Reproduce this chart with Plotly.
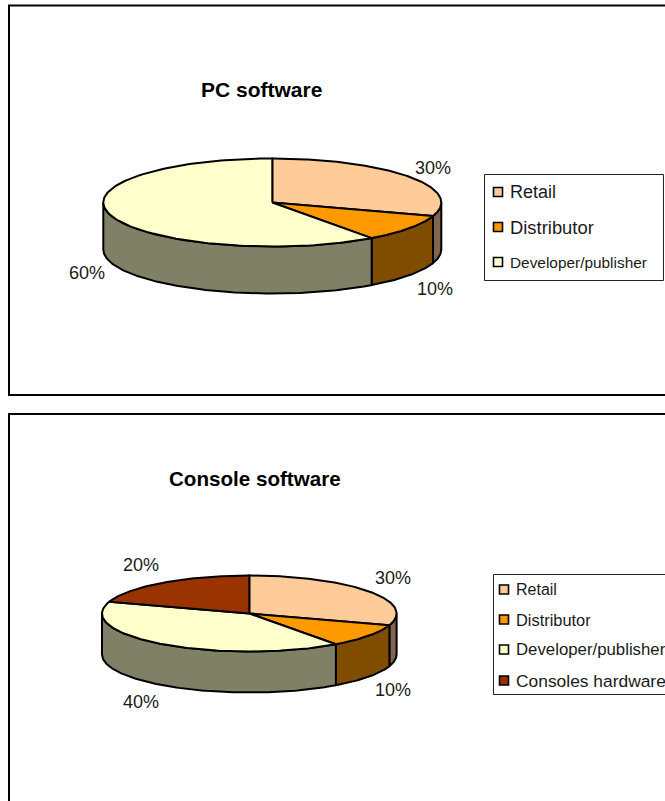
import numpy as np
import plotly.graph_objects as go

# ---- data ----
pc_categories = ["Retail", "Distributor", "Developer/publisher"]
pc_shares = [30, 10, 60]
console_categories = ["Retail", "Distributor", "Developer/publisher", "Consoles hardware"]
console_shares = [30, 10, 40, 20]
pc_title = "PC software"
console_title = "Console software"

# ---- styles ----
TOP = {"Retail": "#FFCC99", "Distributor": "#FF9900",
       "Developer/publisher": "#FFFFCC", "Consoles hardware": "#993300"}
SIDE = {"Retail": "#806650", "Distributor": "#804D00",
        "Developer/publisher": "#808066", "Consoles hardware": "#4D1A00"}
FONT = "Liberation Sans"
LW = 2

fig = go.Figure()


def pt(geo, deg, drop=0.0):
    r = np.radians(deg)
    return geo["cx"] + geo["rx"] * np.sin(r), geo["cy"] - geo["ry"] * np.cos(r) + drop


def poly(xs, ys, color):
    fig.add_trace(go.Scatter(x=xs, y=ys, mode="lines", fill="toself", fillcolor=color,
                             line=dict(color="black", width=LW), hoverinfo="skip",
                             showlegend=False))


def pie3d(categories, shares, geo):
    total = sum(shares)
    edges = np.cumsum([0] + shares) * 360.0 / total
    # walls: only the front half of the rim can be seen
    for cat, a, b in zip(categories, edges[:-1], edges[1:]):
        lo, hi = max(a, 90), min(b, 270)
        if hi <= lo:
            continue
        t = np.linspace(lo, hi, 120)
        x1, y1 = pt(geo, t)
        x2, y2 = pt(geo, t[::-1], geo["depth"])
        poly(np.r_[x1, x2, x1[0]], np.r_[y1, y2, y1[0]], SIDE[cat])
    # top face
    for cat, a, b in zip(categories, edges[:-1], edges[1:]):
        t = np.linspace(a, b, 160)
        x, y = pt(geo, t)
        poly(np.r_[geo["cx"], x, geo["cx"]], np.r_[geo["cy"], y, geo["cy"]], TOP[cat])


def note(x, y, text, size, bold=False, anchor="center", family=FONT, color="#1a1a1a"):
    fig.add_annotation(x=x, y=y, xref="x", yref="y", text=f"<b>{text}</b>" if bold else text,
                       showarrow=False, xanchor=anchor, yanchor="middle",
                       font=dict(family=family, size=size, color=color))


def legend(categories, x, ys, tx, sizes, families):
    for cat, y, s, f in zip(categories, ys, sizes, families):
        fig.add_trace(go.Scatter(x=[x], y=[y], mode="markers", hoverinfo="skip", showlegend=False,
                                 marker=dict(symbol="square", size=9, color=TOP[cat],
                                             line=dict(color="black", width=1.6))))
        note(tx, y, cat, s, anchor="left", family=f)


pc_geo = dict(cx=272.3, cy=202.5, rx=169, ry=44, depth=47)
con_geo = dict(cx=249.3, cy=613.5, rx=147.3, ry=38, depth=41)

pie3d(pc_categories, pc_shares, pc_geo)
pie3d(console_categories, console_shares, con_geo)

for (x, y), s in zip([(432.5, 168), (434.5, 289), (86.5, 273)], pc_shares):
    note(x, y, f"{s}%", 18)
for (x, y), s in zip([(392.5, 578), (392.5, 690), (140.5, 702), (140.5, 565)], console_shares):
    note(x, y, f"{s}%", 18)

note(261, 89, pc_title, 21, bold=True, color="black")
note(255, 478, console_title, 20.6, bold=True, color="black")

shapes = [
    dict(type="rect", xref="x", yref="y", x0=9, y0=5.5, x1=700, y1=395,
         line=dict(color="black", width=2), layer="below"),
    dict(type="rect", xref="x", yref="y", x0=9, y0=414, x1=700, y1=850,
         line=dict(color="black", width=2), layer="below"),
    dict(type="rect", xref="x", yref="y", x0=484.5, y0=174.5, x1=663.5, y1=280.5,
         line=dict(color="#222222", width=1), layer="below"),
    dict(type="rect", xref="x", yref="y", x0=493.5, y0=574.5, x1=700, y1=694.5,
         line=dict(color="#222222", width=1), layer="below"),
]

legend(pc_categories, 498, [192, 227, 262], 508,
       [18, 18.4, 15.4], [FONT] * 3)
legend(console_categories, 504, [589.5, 619.5, 649.5, 680.5], 514,
       [16, 16.4, 16.8, 17.4], [FONT] * 4)

fig.update_layout(
    width=665, height=801, margin=dict(l=0, r=0, t=0, b=0),
    paper_bgcolor="white", plot_bgcolor="white", shapes=shapes, showlegend=False,
    xaxis=dict(range=[0, 665], visible=False, fixedrange=True),
    yaxis=dict(range=[801, 0], visible=False, fixedrange=True),
)
fig.write_html("out.html", config={"displayModeBar": False},
               post_script="document.body.style.margin='0';document.body.style.overflow='hidden';")
